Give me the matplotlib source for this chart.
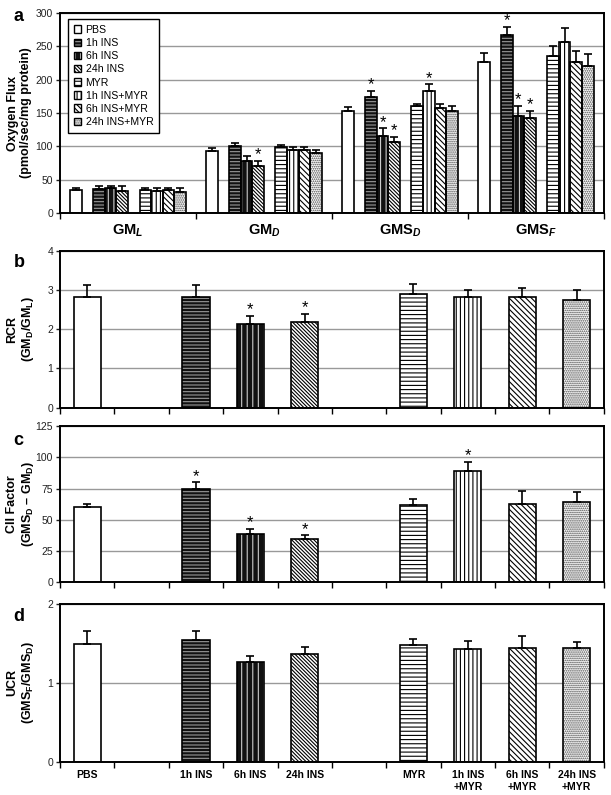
import numpy as np
import matplotlib
matplotlib.use('Agg')
from matplotlib import pyplot as plt
from matplotlib.patches import Patch

plt.rcParams['font.family'] = ['Liberation Sans', 'DejaVu Sans']
plt.rcParams['mathtext.fontset'] = 'custom'
plt.rcParams['mathtext.rm'] = 'Liberation Sans:bold'
plt.rcParams['mathtext.it'] = 'Liberation Sans:bold:italic'
plt.rcParams['mathtext.bf'] = 'Liberation Sans:bold'
plt.rcParams['hatch.linewidth'] = 0.8

# conditions (same order in every panel)
conditions = ['PBS', '1h INS', '6h INS', '24h INS', 'MYR', '1h INS+MYR', '6h INS+MYR', '24h INS+MYR']
xlabels = ['PBS', '1h INS', '6h INS', '24h INS', 'MYR', '1h INS\n+MYR', '6h INS\n+MYR', '24h INS\n+MYR']
states = [r'GM$_\mathit{L}$', r'GM$_\mathit{D}$', r'GMS$_\mathit{D}$', r'GMS$_\mathit{F}$']

# panel a: oxygen flux per state, one value per condition
gml = [34, 36, 37, 33, 34, 33, 34, 32]
gml_err = [3, 4, 4, 7, 3, 5, 3, 6]
gmd = [93, 100, 78, 71, 99, 94, 94, 90]
gmd_err = [4, 5, 8, 7, 3, 5, 5, 5]
gmsd = [153, 174, 116, 106, 160, 183, 157, 153]
gmsd_err = [6, 9, 11, 8, 4, 10, 7, 7]
gmsf = [227, 267, 146, 142, 235, 257, 227, 220]
gmsf_err = [13, 12, 15, 11, 15, 21, 16, 18]
# (state index, condition index) with a star
stars_a = [(1, 3), (2, 1), (2, 2), (2, 3), (2, 5), (3, 1), (3, 2), (3, 3)]

# panel b: RCR
rcr = [2.83, 2.83, 2.13, 2.18, 2.90, 2.83, 2.81, 2.74]
rcr_err = [0.29, 0.29, 0.21, 0.22, 0.26, 0.18, 0.25, 0.25]
stars_b = [2, 3]

# panel c: CII factor
cii = [60.5, 74.7, 39, 34.7, 62, 89, 62.6, 64.5]
cii_err = [2.5, 5.3, 4, 2.9, 5, 7.3, 10.4, 7.9]
stars_c = [1, 2, 3, 5]

# panel d: UCR
ucr = [1.49, 1.54, 1.27, 1.365, 1.476, 1.425, 1.44, 1.44]
ucr_err = [0.17, 0.12, 0.07, 0.095, 0.084, 0.105, 0.15, 0.08]

# bar styles: face, hatch, hatch colour
styles = [
    ('white', None, 'black'),
    ('#111111', '-----', '#999999'),
    ('#111111', '|||', '#cccccc'),
    ('white', '\\' * 9, 'black'),
    ('white', '----', 'black'),
    ('white', '||||', 'black'),
    ('white', '\\' * 6, 'black'),
    ('white', '........', '#444444'),
]

slots = np.array([0, 2, 3, 4, 6, 7, 8, 9])


def draw_bar(ax, x, h, w, i):
    face, hatch, hcol = styles[i]
    ax.bar(x, h, w, color=face, edgecolor=hcol, hatch=hatch, linewidth=0, zorder=2)
    ax.bar(x, h, w, fill=False, edgecolor='black', linewidth=1.2, zorder=3)


def err(ax, x, h, e):
    ax.errorbar(x, h, yerr=[[0], [e]], fmt='none',
                ecolor='black', elinewidth=1.2, capsize=3, capthick=1.2, zorder=4)


def star(ax, x, y):
    ax.annotate('*', (x, y), xytext=(0, -1), textcoords='offset points',
                ha='center', va='bottom', fontsize=12, zorder=5)


def style_axes(ax):
    for s in ax.spines.values():
        s.set_linewidth(1.4)
    ax.set_axisbelow(True)
    ax.yaxis.grid(True, color='#999999', linewidth=1)
    ax.tick_params(axis='y', direction='out', length=3, width=1, labelsize=7.5, colors='#222222', pad=2)


fig = plt.figure(figsize=(6.11, 7.95), dpi=100)
ax_a = fig.add_axes([0.0982, 0.732, 0.890, 0.2516])
ax_b = fig.add_axes([0.0982, 0.4874, 0.890, 0.197])
ax_c = fig.add_axes([0.0982, 0.2673, 0.890, 0.197])
ax_d = fig.add_axes([0.0982, 0.0415, 0.890, 0.199])

# ---- panel a
w = 0.085
flux = [gml, gmd, gmsd, gmsf]
flux_err = [gml_err, gmd_err, gmsd_err, gmsf_err]
for g in range(4):
    for i in range(8):
        x = g - 0.425 + (slots[i] + 0.5) * w
        draw_bar(ax_a, x, flux[g][i], w, i)
        err(ax_a, x, flux[g][i], flux_err[g][i])
for g, i in stars_a:
    x = g - 0.425 + (slots[i] + 0.5) * w
    star(ax_a, x, flux[g][i] + flux_err[g][i])
ax_a.set_xlim(-0.5, 3.5)
ax_a.set_ylim(0, 300)
ax_a.set_yticks(np.arange(0, 301, 50))
ax_a.set_xticks(np.arange(-0.5, 3.6, 1))
ax_a.set_xticklabels([])
ax_a.set_xticks(range(4), minor=True)
ax_a.set_xticklabels(states, minor=True, fontsize=10.5, fontweight='bold')
ax_a.tick_params(axis='x', which='major', direction='out', length=4, width=1)
ax_a.tick_params(axis='x', which='minor', length=0, pad=7)
style_axes(ax_a)
ax_a.set_ylabel('Oxygen Flux\n(pmol/sec/mg protein)', fontsize=9, fontweight='bold', linespacing=1.1)
ax_a.yaxis.set_label_coords(-0.052, 0.5)

handles = []
for face, hatch, hcol in styles:
    handles.append((Patch(facecolor=face, edgecolor=hcol, hatch=hatch, linewidth=0),
                    Patch(fill=False, edgecolor='black', linewidth=1)))
leg = ax_a.legend(handles, conditions, loc='upper left', bbox_to_anchor=(0.015, 0.97),
                  borderaxespad=0, fontsize=7.6, handlelength=0.7, handleheight=0.7,
                  handletextpad=0.4, labelspacing=0.3, borderpad=0.55,
                  fancybox=False, framealpha=1, edgecolor='black')
leg.get_frame().set_linewidth(1)

# ---- panels b, c, d
panels = [
    (ax_b, rcr, rcr_err, stars_b, (0, 4), np.arange(0, 5, 1), 'RCR\n(GM$_\\mathrm{D}$/GM$_\\mathrm{L}$)'),
    (ax_c, cii, cii_err, stars_c, (0, 125), np.arange(0, 126, 25), 'CII Factor\n(GMS$_\\mathrm{D}$ \u2013 GM$_\\mathrm{D}$)'),
    (ax_d, ucr, ucr_err, [], (0, 2), np.arange(0, 3, 1), 'UCR\n(GMS$_\\mathrm{F}$/GMS$_\\mathrm{D}$)'),
]
for ax, vals, errs, stars, ylim, yt, lab in panels:
    for i in range(8):
        draw_bar(ax, slots[i], vals[i], 0.5, i)
        err(ax, slots[i], vals[i], errs[i])
    for i in stars:
        star(ax, slots[i], vals[i] + errs[i])
    ax.set_xlim(-0.5, 9.5)
    ax.set_ylim(*ylim)
    ax.set_yticks(yt)
    ax.set_xticks(np.arange(-0.5, 9.6, 1))
    ax.set_xticklabels([])
    ax.tick_params(axis='x', which='major', direction='out', length=4, width=1)
    style_axes(ax)
    ax.set_ylabel(lab, fontsize=9, fontweight='bold', linespacing=1.1)
    ax.yaxis.set_label_coords(-0.045, 0.5)

ax_d.set_xticks(slots, minor=True)
ax_d.set_xticklabels(xlabels, minor=True, fontsize=7.5, fontweight='bold', linespacing=1.2)
ax_d.tick_params(axis='x', which='minor', length=0, pad=6)

for letter, y in [('a', 0.99), ('b', 0.68), ('c', 0.457), ('d', 0.235)]:
    fig.text(0.022, y, letter, fontsize=13, fontweight='bold', va='top')

fig.savefig('out.png', dpi=100)
